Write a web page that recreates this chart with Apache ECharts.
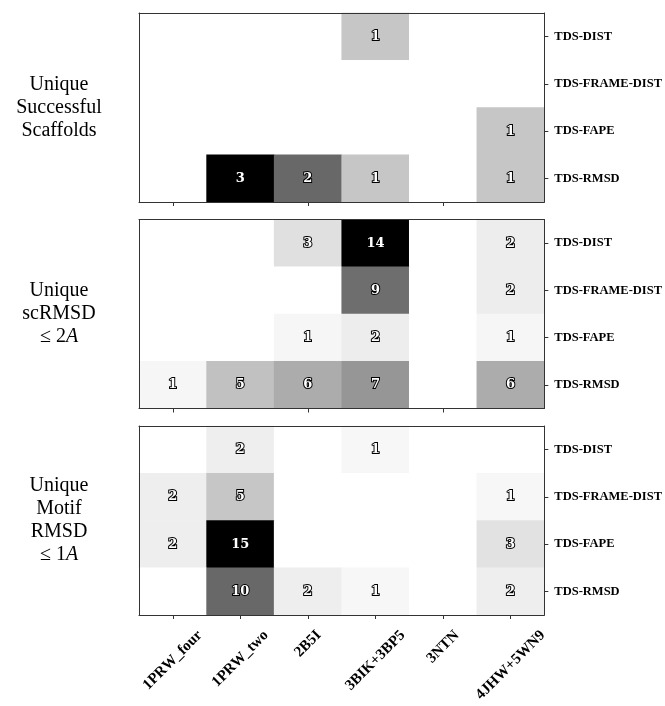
<!DOCTYPE html>
<html>
<head>
<meta charset="utf-8">
<style>
  html, body { margin: 0; padding: 0; background: #fff; }
  #chart { width: 665px; height: 706px; }
</style>
<script src="https://cdn.jsdelivr.net/npm/echarts@6/dist/echarts.min.js"></script>
</head>
<body>
<div id="chart"></div>
<script>
// Targets (columns) and losses (rows, listed top to bottom)
const targets = ['1PRW_four', '1PRW_two', '2B5I', '3BIK+3BP5', '3NTN', '4JHW+5WN9'];
const losses = ['TDS-DIST', 'TDS-FRAME-DIST', 'TDS-FAPE', 'TDS-RMSD'];

// Counts per loss (row) and target (column)
const successfulScaffolds = [
  [0, 0, 0, 1, 0, 0],
  [0, 0, 0, 0, 0, 0],
  [0, 0, 0, 0, 0, 1],
  [0, 3, 2, 1, 0, 1]
];
const scRmsdUnder2 = [
  [0, 0, 3, 14, 0, 2],
  [0, 0, 0, 9, 0, 2],
  [0, 0, 1, 2, 0, 1],
  [1, 5, 6, 7, 0, 6]
];
const motifRmsdUnder1 = [
  [0, 2, 0, 1, 0, 0],
  [2, 5, 0, 0, 0, 1],
  [2, 15, 0, 0, 0, 3],
  [0, 10, 2, 1, 0, 2]
];

const panels = [
  { values: successfulScaffolds, title: 'Unique\nSuccessful\nScaffolds' },
  { values: scRmsdUnder2, title: 'Unique\nscRMSD\n{m|≤ 2}{i|A}' },
  { values: motifRmsdUnder1, title: 'Unique\nMotif\nRMSD\n{m|≤ 1}{i|A}' }
];

// ColorBrewer "Greys" ramp
const greys = ['#ffffff', '#f0f0f0', '#d9d9d9', '#bdbdbd', '#969696',
               '#737373', '#525252', '#252525', '#000000'];

const gridLeft = 139, gridWidth = 409, gridHeight = 189;
const gridTops = [13, 219.5, 426];
const lineColor = '#333';

// Rotated tick labels: each label's bounding box is centred under its tick
// and hangs from a common top line, so longer names reach further down.
const xLabelFont = { family: 'Liberation Serif', weight: 'bold', size: 15 };
const measureCtx = document.createElement('canvas').getContext('2d');
measureCtx.font = `${xLabelFont.weight} ${xLabelFont.size}px "${xLabelFont.family}"`;
const xLabelRich = {};
targets.forEach((name, k) => {
  const w = measureCtx.measureText(name).width;
  xLabelRich['t' + k] = {
    fontFamily: xLabelFont.family, fontWeight: xLabelFont.weight,
    fontSize: xLabelFont.size, color: '#000',
    padding: [w / 2, w / 2, 0, 0]
  };
});

const grids = [], xAxes = [], yAxes = [], series = [], visualMaps = [], graphics = [];

panels.forEach((panel, i) => {
  grids.push({ left: gridLeft, top: gridTops[i], width: gridWidth, height: gridHeight });
  const isLast = i === panels.length - 1;

  // bottom axis with ticks (names only under the last panel)
  xAxes.push({
    type: 'category', gridIndex: i, data: targets, position: 'bottom', z: 5,
    axisLine: { show: true, lineStyle: { color: lineColor, width: 1 } },
    axisTick: { show: true, alignWithLabel: true, length: 4, lineStyle: { color: lineColor } },
    axisLabel: isLast ? {
      show: true, rotate: 45, margin: 18, interval: 0,
      align: 'center', verticalAlign: 'middle',
      formatter: (value, idx) => `{t${idx}|${value}}`,
      rich: xLabelRich
    } : { show: false },
    splitLine: { show: false }
  });
  // top frame line
  xAxes.push({
    type: 'category', gridIndex: i, data: targets, position: 'top', z: 5,
    axisLine: { show: true, lineStyle: { color: lineColor, width: 1 } },
    axisTick: { show: false }, axisLabel: { show: false }, splitLine: { show: false }
  });
  // right axis with loss names
  yAxes.push({
    type: 'category', gridIndex: i, data: losses, inverse: true, position: 'right', z: 5,
    axisLine: { show: true, lineStyle: { color: lineColor, width: 1 } },
    axisTick: { show: true, alignWithLabel: true, length: 4, lineStyle: { color: lineColor } },
    axisLabel: {
      show: true, margin: 10, interval: 0,
      fontFamily: 'Liberation Serif', fontWeight: 'bold', fontSize: 12.5, color: '#000'
    },
    splitLine: { show: false }
  });
  // left frame line
  yAxes.push({
    type: 'category', gridIndex: i, data: losses, inverse: true, position: 'left', z: 5,
    axisLine: { show: true, lineStyle: { color: lineColor, width: 1 } },
    axisTick: { show: false }, axisLabel: { show: false }, splitLine: { show: false }
  });

  const data = [];
  let maxVal = 0;
  panel.values.forEach((row, r) => {
    row.forEach((v, c) => {
      data.push([c, r, v]);
      if (v > maxVal) maxVal = v;
    });
  });

  series.push({
    type: 'heatmap',
    xAxisIndex: 2 * i,
    yAxisIndex: 2 * i,
    data: data,
    label: {
      show: true,
      formatter: p => (p.value[2] === 0 ? '' : String(p.value[2])),
      fontFamily: 'DejaVu Serif', fontWeight: 'bold', fontSize: 13,
      color: '#fff', textBorderColor: '#000', textBorderWidth: 2
    },
    itemStyle: { borderWidth: 0 },
    emphasis: { disabled: true }
  });

  visualMaps.push({
    type: 'continuous', show: false, seriesIndex: i, dimension: 2,
    min: 0, max: maxVal, inRange: { color: greys }
  });

  graphics.push({
    type: 'text',
    x: 59,
    y: gridTops[i] + gridHeight / 2,
    style: {
      text: panel.title,
      fill: '#000',
      font: '20px "Liberation Serif"',
      align: 'center',
      verticalAlign: 'middle',
      lineHeight: 23,
      rich: {
        m: { font: '20px "Liberation Serif"', fill: '#000', lineHeight: 23 },
        i: { font: 'italic 20px "Liberation Serif"', fill: '#000', lineHeight: 23 }
      }
    }
  });
});

const chart = echarts.init(document.getElementById('chart'), null, { renderer: 'canvas' });
chart.setOption({
  animation: false,
  backgroundColor: '#fff',
  grid: grids,
  xAxis: xAxes,
  yAxis: yAxes,
  visualMap: visualMaps,
  series: series,
  graphic: graphics
});
</script>
</body>
</html>
